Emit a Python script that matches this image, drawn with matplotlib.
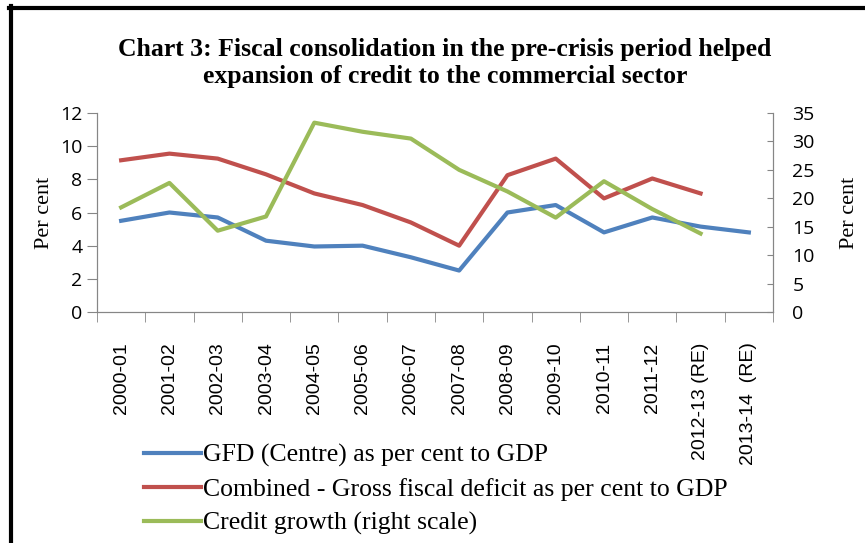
import matplotlib
matplotlib.use("Agg")
import matplotlib.pyplot as plt
from matplotlib.lines import Line2D

years = ["2000-01", "2001-02", "2002-03", "2003-04", "2004-05", "2005-06",
         "2006-07", "2007-08", "2008-09", "2009-10", "2010-11", "2011-12",
         "2012-13 (RE)", "2013-14  (RE)"]
gfd_centre = [5.5, 6.0, 5.7, 4.3, 3.95, 4.0, 3.3, 2.5, 6.0, 6.45, 4.8, 5.7, 5.15, 4.8]
gfd_combined = [9.15, 9.55, 9.25, 8.3, 7.15, 6.45, 5.4, 4.0, 8.25, 9.25, 6.85, 8.05, 7.15, None]
credit_growth = [18.4, 22.7, 14.3, 16.8, 33.3, 31.7, 30.5, 25.0, 21.2, 16.6, 23.0, 18.1, 13.8, None]

blue = "#4F81BD"
red = "#C0504D"
green = "#9BBB59"
grey = "#868686"

fig = plt.figure(figsize=(8.65, 5.43), dpi=100)
ax = fig.add_axes([97 / 865, 1 - 312 / 543, 676 / 865, 199 / 543])
ax2 = ax.twinx()

x = list(range(len(years)))
comb = [v if v is not None else float("nan") for v in gfd_combined]
cred = [v if v is not None else float("nan") for v in credit_growth]

l1, = ax.plot(x, gfd_centre, color=blue, lw=3, label="GFD (Centre) as per cent to GDP")
l2, = ax.plot(x, comb, color=red, lw=3, label="Combined - Gross fiscal deficit as per cent to GDP")
l3, = ax2.plot(x, cred, color=green, lw=3, label="Credit growth (right scale)")

ax.set_xlim(-0.5, len(years) - 0.5)
ax.set_ylim(0, 12)
ax.set_yticks(range(0, 13, 2))
ax2.set_ylim(0, 35)
ax2.set_yticks(range(0, 36, 5))

ax.set_xticks(x)
ax.set_xticklabels(years, rotation=90, fontsize=14, family="Liberation Sans")
ax.set_xticks([i - 0.5 for i in range(len(years) + 1)], minor=True)
ax.tick_params(axis="x", which="major", length=0, pad=22)
ax.tick_params(axis="x", which="minor", length=7, color=grey, direction="out")
ax.tick_params(axis="y", length=7, color=grey, labelsize=14, direction="out")
ax2.tick_params(axis="y", length=4, color=grey, labelsize=14, direction="in", pad=14)
for t in ax.get_yticklabels() + ax2.get_yticklabels():
    t.set_family("Open Sans")

for a in (ax, ax2):
    for s in a.spines.values():
        s.set_color(grey)
    a.spines["top"].set_visible(False)

ax.set_ylabel("Per cent", family="Liberation Serif", fontsize=16, labelpad=4)
ax2.set_ylabel("Per cent", family="Liberation Serif", fontsize=16, labelpad=18)

fig.text(445 / 865, 1 - 63 / 543,
         "Chart 3: Fiscal consolidation in the pre-crisis period helped\n"
         "expansion of credit to the commercial sector",
         ha="center", va="center", family="Liberation Serif", weight="bold",
         fontsize=18.5, linespacing=1.25)

fig.legend(handles=[l1, l2, l3], loc="upper left",
           bbox_to_anchor=(144 / 865, 1 - 444 / 543), frameon=False,
           prop={"family": "Liberation Serif", "size": 18.5},
           handlelength=2.2, handletextpad=0.1, labelspacing=0.42,
           borderpad=0, borderaxespad=0)

# frame edges of the original box
fig.add_artist(Line2D([9 / 865, 1], [1 - 8 / 543, 1 - 8 / 543], color="black", lw=3, transform=fig.transFigure))
fig.add_artist(Line2D([11 / 865, 11 / 865], [0, 1 - 6 / 543], color="black", lw=3, transform=fig.transFigure))

fig.savefig("out.png", dpi=100)
